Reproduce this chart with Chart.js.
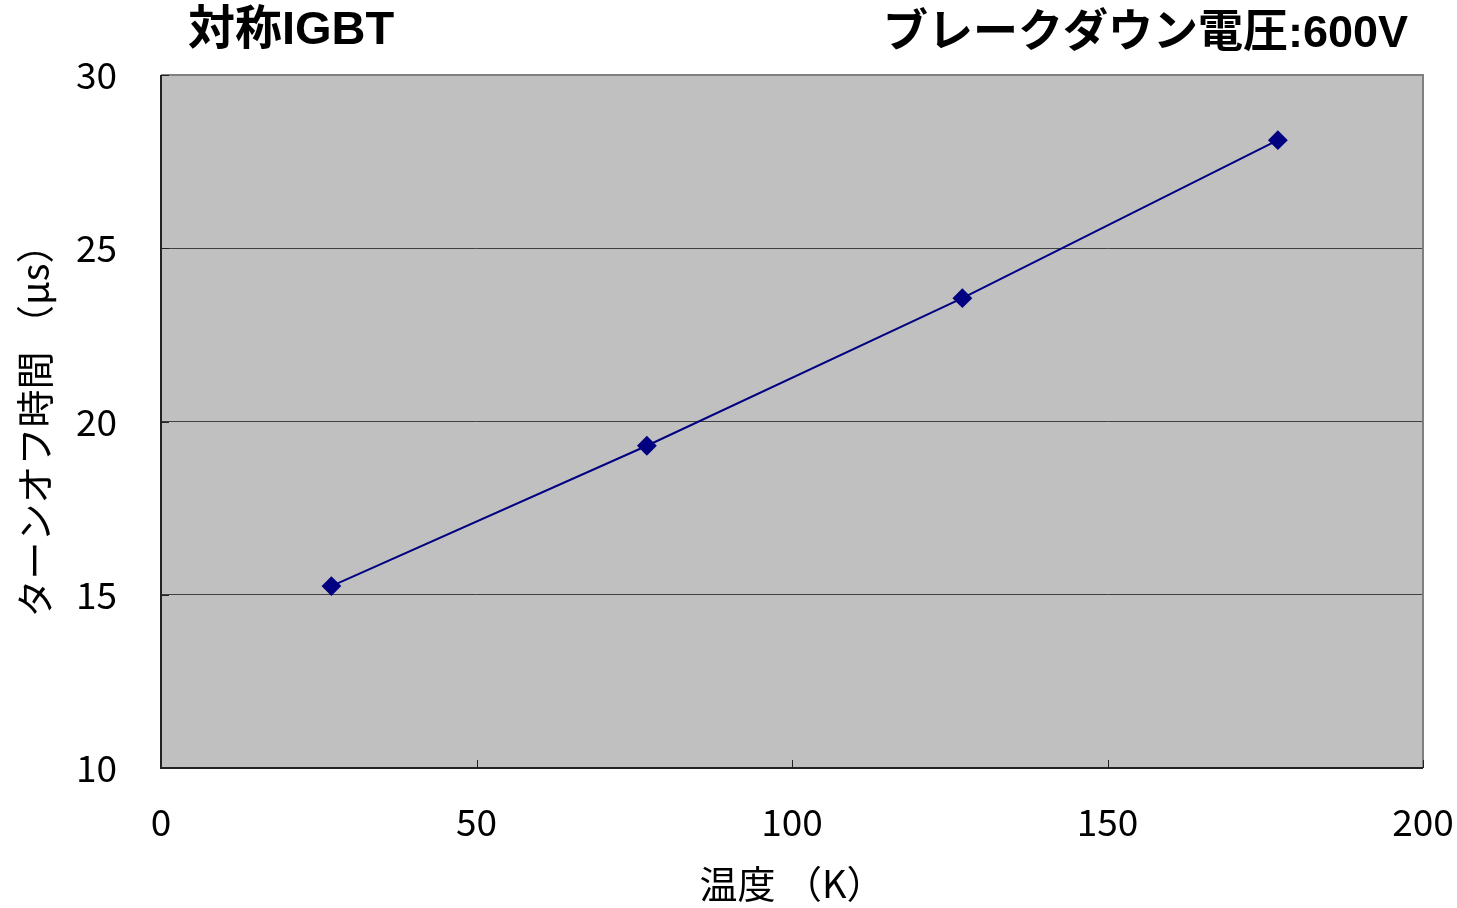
<!DOCTYPE html>
<html><head><meta charset="utf-8">
<script src="https://cdn.jsdelivr.net/npm/chart.js@4"></script>
<style>html,body{margin:0;padding:0;background:#fff;}canvas{display:block;}</style>
</head><body>
<canvas id="c" width="1457" height="908"></canvas>
<script>
const titleLeft = "対称IGBT";
const titleRight = "ブレークダウン電圧:600V";
const xAxisTitle = "温度 （K）";
const yAxisTitle = "ターンオフ時間 （μs）";
const temperatures = [27, 77, 127, 177];
const turnOffTimes = [15.25, 19.3, 23.56, 28.12];
const xTicks = [0, 50, 100, 150, 200];
const yTicks = [10, 15, 20, 25, 30];

const FONT = "'Noto Sans CJK JP', 'Noto Sans', sans-serif";
const TFONT = "'Liberation Sans', 'Noto Sans CJK JP', sans-serif";

const plotDeco = {
  id: 'plotDeco',
  beforeDraw(chart) {
    const {ctx, chartArea: a} = chart;
    ctx.save();
    ctx.fillStyle = '#C0C0C0';
    ctx.fillRect(a.left, a.top, a.right - a.left, a.bottom - a.top);
    ctx.restore();
  },
  beforeDatasetsDraw(chart) {
    const {ctx, chartArea: a, scales} = chart;
    ctx.save();
    ctx.strokeStyle = '#808080';
    ctx.lineWidth = 2;
    ctx.beginPath();
    ctx.moveTo(a.left, a.top); ctx.lineTo(a.right, a.top); ctx.lineTo(a.right, a.bottom);
    ctx.stroke();
    ctx.strokeStyle = '#222';
    ctx.lineWidth = 2;
    ctx.beginPath();
    ctx.moveTo(a.left, a.top); ctx.lineTo(a.left, a.bottom); ctx.lineTo(a.right, a.bottom);
    ctx.stroke();
    ctx.lineWidth = 1;
    ctx.strokeStyle = '#222';
    xTicks.forEach(v => {
      const x = Math.round(scales.x.getPixelForValue(v)) + 0.5;
      ctx.beginPath(); ctx.moveTo(x, a.bottom); ctx.lineTo(x, a.bottom - 8); ctx.stroke();
    });
    yTicks.forEach(v => {
      const y = Math.round(scales.y.getPixelForValue(v)) + 0.5;
      ctx.beginPath(); ctx.moveTo(a.left, y); ctx.lineTo(a.left + 8, y); ctx.stroke();
    });
    ctx.restore();
  },
  afterDraw(chart) {
    const {ctx} = chart;
    ctx.save();
    ctx.fillStyle = '#000';
    ctx.textBaseline = 'middle';
    ctx.font = "bold 47px " + TFONT;
    ctx.textAlign = 'left';
    ctx.fillText(titleLeft, 188, 31);
    ctx.font = "bold 45px " + TFONT;
    ctx.textAlign = 'right';
    ctx.fillText(titleRight, 1408, 35);
    ctx.restore();
  }
};

new Chart(document.getElementById('c'), {
  type: 'line',
  data: {
    datasets: [{
      data: temperatures.map((t, i) => ({x: t, y: turnOffTimes[i]})),
      borderColor: '#000080',
      backgroundColor: '#000080',
      borderWidth: 2,
      pointStyle: 'rectRot',
      pointRadius: 8.5,
      pointHoverRadius: 8.5,
      tension: 0,
      fill: false
    }]
  },
  options: {
    responsive: false,
    animation: false,
    events: [],
    layout: {padding: {left: 0, top: 75, right: 34, bottom: 0}},
    plugins: {legend: {display: false}, tooltip: {enabled: false}},
    scales: {
      x: {
        type: 'linear', min: 0, max: 200,
        afterBuildTicks: s => { s.ticks = xTicks.map(v => ({value: v})); },
        afterFit: s => { s.height = 140; s.paddingLeft = 0; s.paddingRight = 0; },
        grid: {display: false, drawTicks: false},
        border: {display: false},
        ticks: {color: '#000', font: {family: FONT, size: 37}, padding: 32, maxRotation: 0},
        title: {display: true, text: xAxisTitle, color: '#000', font: {family: FONT, size: 38}, padding: {top: 0, bottom: 2}}
      },
      y: {
        type: 'linear', min: 10, max: 30,
        afterBuildTicks: s => { s.ticks = yTicks.map(v => ({value: v})); },
        afterFit: s => { s.width = 161; s.paddingTop = 0; s.paddingBottom = 0; },
        grid: {display: true, color: ctx => (ctx.tick && (ctx.tick.value === 10 || ctx.tick.value === 30)) ? 'rgba(0,0,0,0)' : '#404040', lineWidth: 1, drawTicks: false},
        border: {display: false},
        ticks: {color: '#000', font: {family: FONT, size: 37}, padding: 44},
        title: {display: true, text: yAxisTitle, color: '#000', font: {family: FONT, size: 38}, padding: {top: 12, bottom: 0}}
      }
    }
  },
  plugins: [plotDeco]
});
</script>
</body></html>
